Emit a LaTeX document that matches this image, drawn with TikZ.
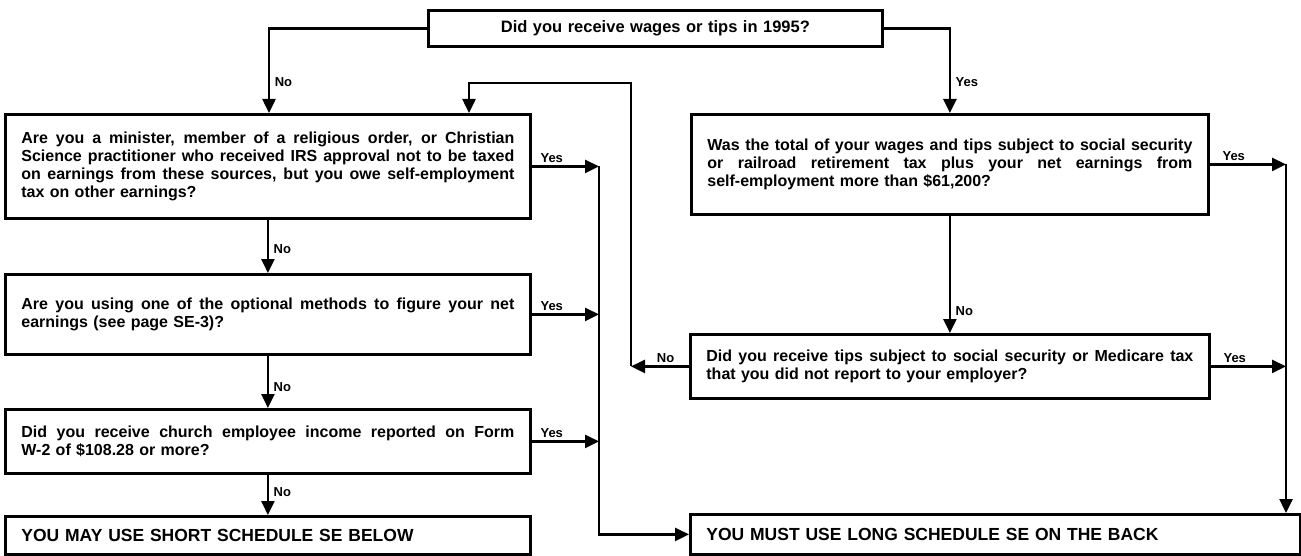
\documentclass[tikz,border=0pt]{standalone}
\usepackage{fontspec}
\setmainfont{Liberation Sans}
\usepackage{tikz}
\usetikzlibrary{arrows.meta}
\newcommand{\qfont}{\bfseries\fontsize{16}{18}\selectfont}
\newcommand{\capfont}{\bfseries\fontsize{17.5}{18}\selectfont}
\newcommand{\lfont}{\bfseries\fontsize{13}{13}\selectfont}
\newcommand{\fillline}[1]{\makebox[\hsize][s]{\spaceskip=0pt\xspaceskip=0pt\relax #1}}

\begin{document}
\begin{tikzpicture}[x=1pt,y=-1pt,
  qbox/.style={draw, line width=2.8pt, anchor=north west, inner xsep=16pt, inner ysep=0pt,
    text width=#1, align=left, font=\qfont},
  conn/.style={line width=2.5pt},
  arr/.style={conn, -{Triangle[length=14pt,width=13pt]}},
  lbl/.style={font=\lfont, inner sep=1.5pt},
  yeslbl/.style={lbl, anchor=south west, xshift=6pt, yshift=1pt},
  nolbl/.style={lbl, anchor=west, xshift=3pt}]
\useasboundingbox (0,0) rectangle (1301,556);

\node[qbox=422pt, align=center, minimum height=36pt, font=\bfseries\fontsize{16.5}{18}\selectfont] (wages) at (427,9) {Did you receive wages or tips in 1995?};

\node[qbox=493pt, minimum height=104pt] (minister) at (4,113) {\fillline{Are you a minister, member of a religious order, or Christian}\\
\fillline{Science practitioner who received IRS approval not to be taxed}\\
\fillline{on earnings from these sources, but you owe self-employment}\\
tax on other earnings?};
\node[qbox=493pt, minimum height=80pt] (optional) at (4,273) {\fillline{Are you using one of the optional methods to figure your net}\\
earnings (see page SE-3)?};
\node[qbox=493pt, minimum height=64pt] (church) at (4,408) {\fillline{Did you receive church employee income reported on Form}\\
W-2 of \$108.28 or more?};
\node[qbox=493pt, minimum height=38pt, font=\capfont] (short) at (4,515) {YOU MAY USE SHORT SCHEDULE SE BELOW};

\node[qbox=485pt, minimum height=100pt] (total) at (690,113) {\fillline{Was the total of your wages and tips subject to social security}\\
\fillline{or railroad retirement tax plus your net earnings from}\\
self-employment more than \$61,200?};
\node[qbox=487pt, minimum height=64pt] (tips) at (689,333) {\fillline{Did you receive tips subject to social security or Medicare tax}\\
that you did not report to your employer?};
\node[qbox=578pt, minimum height=40pt, font=\capfont] (long) at (689,513) {YOU MUST USE LONG SCHEDULE SE ON THE BACK};

\coordinate (lbus) at (599,0);
\coordinate (rbus) at (1286,0);
\coordinate (looptop) at (631,83);

\draw[arr] (wages.west) -| ([xshift=265pt]minister.north west) node[nolbl, pos=0.82] {No};
\draw[arr] (wages.east) -| (total.north) node[nolbl, pos=0.82] {Yes};

\draw[arr] (minister.south) -- (optional.north) node[nolbl, pos=0.55] {No};
\draw[arr] (optional.south) -- (church.north) node[nolbl, pos=0.6] {No};
\draw[arr] (church.south) -- (short.north) node[nolbl, pos=0.42] {No};
\draw[arr] (total.south) -- (tips.north) node[nolbl, pos=0.81] {No};

\draw[arr] (minister.east) node[yeslbl] {Yes} -- (minister.east -| lbus);
\draw[arr] (optional.east) node[yeslbl] {Yes} -- (optional.east -| lbus);
\draw[arr] (church.east) node[yeslbl] {Yes} -- (church.east -| lbus);
\draw[arr] (minister.east -| lbus) |- (long.west);

\draw[arr] (total.east) node[yeslbl, xshift=4pt] {Yes} -- (total.east -| rbus);
\draw[arr] (tips.east) node[yeslbl, xshift=4pt] {Yes} -- (tips.east -| rbus);
\draw[arr] (total.east -| rbus) -- (rbus |- long.north);

\draw[arr] (tips.west) node[lbl, anchor=south east, xshift=-12pt, yshift=1pt] {No} -- (tips.west -| looptop);
\draw[arr] (tips.west -| looptop) -- (looptop) -| ([xshift=465pt]minister.north west);
\end{tikzpicture}
\end{document}
